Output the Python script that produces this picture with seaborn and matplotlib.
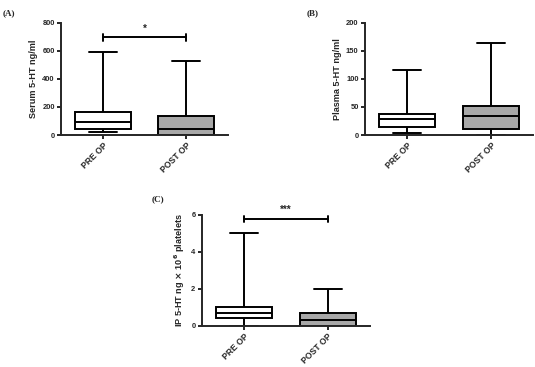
import numpy as np
import pandas as pd
import matplotlib
matplotlib.use("Agg")
import matplotlib.pyplot as plt
import seaborn as sns

# five-number summaries: min, Q1, median, Q3, max
groups = ["PRE OP", "POST OP"]
serum_pre = [23, 43, 90, 166, 593]
serum_post = [0, 1, 40, 137, 527]
plasma_pre = [4, 15, 28, 37, 116]
plasma_post = [0, 10, 34, 52, 164]
ip_pre = [0.02, 0.45, 0.72, 1.02, 5.0]
ip_post = [0, 0.01, 0.31, 0.67, 2.0]

serum_ticks = [0, 200, 400, 600, 800]
plasma_ticks = [0, 50, 100, 150, 200]
ip_ticks = [0, 2, 4, 6]

sns.set_style("ticks")
plt.rcParams["font.family"] = ["Liberation Sans", "DejaVu Sans"]
plt.rcParams["font.weight"] = "bold"
plt.rcParams["mathtext.default"] = "bf"


def long_df(pre, post):
    return pd.DataFrame({
        "group": [groups[0]] * len(pre) + [groups[1]] * len(post),
        "value": list(pre) + list(post),
    })


fig = plt.figure(figsize=(5.35, 3.67), dpi=100)
ax_a = fig.add_axes([0.114, 0.632, 0.312, 0.306])
ax_b = fig.add_axes([0.682, 0.632, 0.314, 0.306])
ax_c = fig.add_axes([0.377, 0.112, 0.314, 0.303])

panels = [
    (ax_a, serum_pre, serum_post, serum_ticks, "Serum 5-HT ng/ml"),
    (ax_b, plasma_pre, plasma_post, plasma_ticks, "Plasma 5-HT ng/ml"),
    (ax_c, ip_pre, ip_post, ip_ticks, "IP 5-HT ng $\\times$ 10$^6$ platelets"),
]

lw = 1.4
for ax, pre, post, ticks, label in panels:
    df = long_df(pre, post)
    sns.boxplot(
        data=df, x="group", y="value", hue="group",
        palette=["white", "#a8a8a8"], legend=False,
        whis=(0, 100), width=0.67, linewidth=lw, linecolor="black",
        showfliers=False, ax=ax,
    )
    ax.set_ylim(ticks[0], ticks[-1])
    ax.set_yticks(ticks)
    ax.set_xlim(-0.5, 1.5)
    ax.set_xlabel("")
    ax.set_ylabel(label, fontsize=6.6, fontweight="bold", labelpad=3)
    ax.tick_params(axis="y", labelsize=5.4, width=lw, length=3, pad=1.5)
    ax.tick_params(axis="x", labelsize=6.2, width=lw, length=3, pad=1.5)
    for t in ax.get_xticklabels():
        t.set_rotation(45)
        t.set_ha("right")
        t.set_rotation_mode("anchor")
        t.set_fontweight("bold")
    for t in ax.get_yticklabels():
        t.set_fontweight("bold")
    sns.despine(ax=ax)
    for s in ["left", "bottom"]:
        ax.spines[s].set_linewidth(lw)


def sig_bar(ax, y, cap, text):
    ax.plot([0, 1], [y, y], color="black", lw=lw, clip_on=False)
    ax.plot([0, 0], [y - cap, y + cap], color="black", lw=lw, clip_on=False)
    ax.plot([1, 1], [y - cap, y + cap], color="black", lw=lw, clip_on=False)
    ax.text(0.5, y + cap * 1.2, text, ha="center", va="bottom", fontsize=7, fontweight="bold")


sig_bar(ax_a, 695, 22, "*")
sig_bar(ax_c, 5.78, 0.16, "***")

fig.text(0.004, 0.975, "(A)", fontsize=6.5, fontweight="bold", family="Liberation Serif", va="top")
fig.text(0.573, 0.975, "(B)", fontsize=6.5, fontweight="bold", family="Liberation Serif", va="top")
fig.text(0.283, 0.468, "(C)", fontsize=6.5, fontweight="bold", family="Liberation Serif", va="top")

fig.savefig("out.png", dpi=100, facecolor="white")
